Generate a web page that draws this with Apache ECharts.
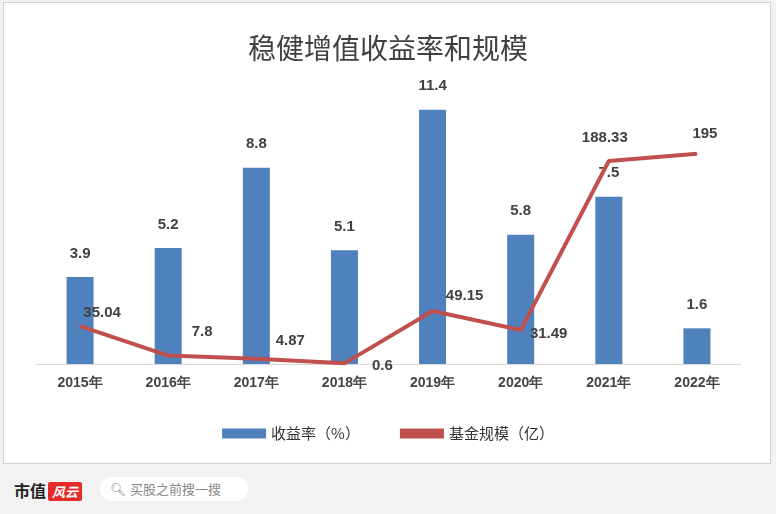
<!DOCTYPE html><html><head><meta charset="utf-8"><script src="https://cdn.jsdelivr.net/npm/echarts@6/dist/echarts.min.js"></script>
<style>body{margin:0;background:#f2f2f2;width:776px;height:514px;overflow:hidden;font-family:"Noto Sans CJK SC"}
#frame{position:absolute;left:3px;top:2px;width:766px;height:460px;background:#fff;border:1px solid #d0d0d0}
#c{position:absolute;left:0;top:0;width:776px;height:470px}
#ft{position:absolute;left:14px;top:478px;font-size:16px;font-weight:bold;color:#222}
#logo{display:inline-block;background:#e52a2a;color:#fff;font-size:13px;padding:0 4px;border-radius:2px;margin-left:2px;font-style:italic}
#sb{position:absolute;left:100px;top:477px;width:138px;height:24px;background:#fff;border-radius:12px;font-size:13px;color:#888;line-height:24px;padding-left:10px}
</style></head><body><div id="frame"></div><div id="c"></div>
<div id="ft">市值<span id="logo">风云</span></div><div id="sb">🔍︎ 买股之前搜一搜</div>
<script>
const categories=["2015年","2016年","2017年","2018年","2019年","2020年","2021年","2022年"];
const returns=[3.9,5.2,8.8,5.1,11.4,5.8,7.5,1.6];
const scale=[35.04,7.8,4.87,0.6,49.15,31.49,188.33,195];
const labelOffsets=[[22,0],[34,-11],[34,-5],[38,16],[32,-2],[28,17],[-4,-10],[8,-7]];
const c=echarts.init(document.getElementById('c'));
c.setOption({
title:{text:"稳健增值收益率和规模",left:'center',top:29,textStyle:{fontSize:28,fontWeight:'normal',color:'#404040',fontFamily:'Noto Sans CJK SC'}},
legend:{bottom:24,itemGap:40,textStyle:{fontSize:15,color:'#333',fontFamily:'Noto Sans CJK SC'},data:[{name:'收益率（%）',icon:'rect'},{name:'基金规模（亿）',icon:'rect'}],itemWidth:44,itemHeight:10},
grid:{left:36,right:35,top:60,bottom:106},
xAxis:{type:'category',data:categories,axisTick:{show:false},axisLine:{lineStyle:{color:'#d9d9d9'}},axisLabel:{fontSize:14,fontWeight:'bold',color:'#444',margin:12}},
yAxis:[{type:'value',min:0,max:13.63,show:false},{type:'value',min:0,max:282,show:false}],
series:[{name:'收益率（%）',type:'bar',data:returns,barWidth:27,itemStyle:{color:'#4f81bd'},label:{show:true,position:'top',distance:16,fontSize:15,fontWeight:'bold',color:'#404040'}},
{name:'基金规模（亿）',type:'line',yAxisIndex:1,data:scale.map((v,i)=>({value:v,label:{offset:labelOffsets[i]}})),symbol:'circle',symbolSize:1,showSymbol:true,z:5,lineStyle:{color:'#c0504d',width:4},itemStyle:{color:'#c0504d'},label:{show:true,position:'top',fontSize:15,fontWeight:'bold',color:'#404040'}}]
});
</script></body></html>
